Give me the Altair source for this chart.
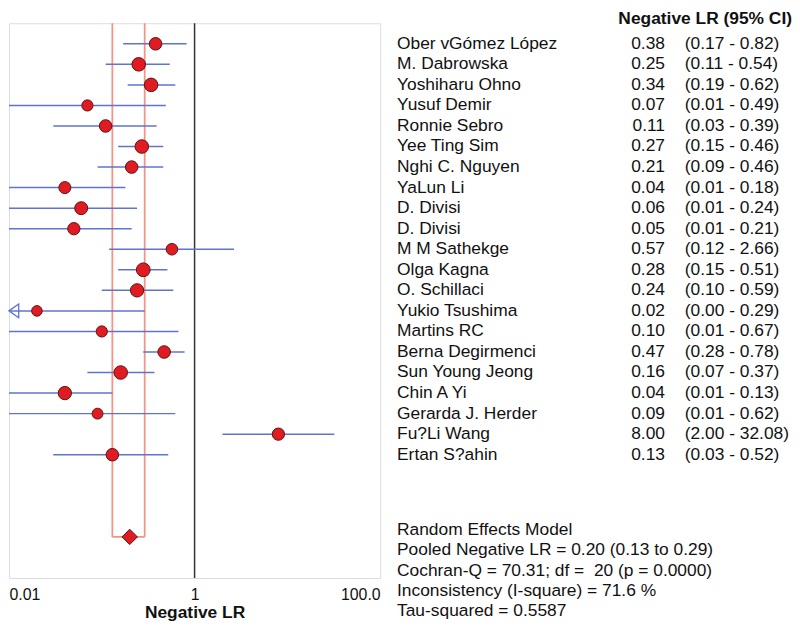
import altair as alt
import pandas as pd

# ---------------- data ----------------
names = ["Ober vGómez López", "M. Dabrowska", "Yoshiharu Ohno", "Yusuf Demir", "Ronnie Sebro",
         "Yee Ting Sim", "Nghi C. Nguyen", "YaLun Li", "D. Divisi", "D. Divisi", "M M Sathekge",
         "Olga Kagna", "O. Schillaci", "Yukio Tsushima", "Martins RC", "Berna Degirmenci",
         "Sun Young Jeong", "Chin A Yi", "Gerarda J. Herder", "Fu?Li Wang", "Ertan S?ahin"]
lr = [0.38, 0.25, 0.34, 0.07, 0.11, 0.27, 0.21, 0.04, 0.06, 0.05, 0.57,
      0.28, 0.24, 0.02, 0.10, 0.47, 0.16, 0.04, 0.09, 8.00, 0.13]
lo = [0.17, 0.11, 0.19, 0.01, 0.03, 0.15, 0.09, 0.01, 0.01, 0.01, 0.12,
      0.15, 0.10, 0.00, 0.01, 0.28, 0.07, 0.01, 0.01, 2.00, 0.03]
hi = [0.82, 0.54, 0.62, 0.49, 0.39, 0.46, 0.46, 0.18, 0.24, 0.21, 2.66,
      0.51, 0.59, 0.29, 0.67, 0.78, 0.37, 0.13, 0.62, 32.08, 0.52]
weight = [4.8, 5.6, 5.6, 3.8, 4.8, 5.6, 4.8, 4.4, 5.1, 4.6, 4.1,
          5.8, 5.4, 3.4, 3.8, 4.8, 5.6, 5.4, 3.6, 4.6, 4.8]

pooled = 0.20
pooled_lo = 0.13
pooled_hi = 0.29
pooled_row = 24

header = "Negative LR (95% CI)"
stats = ["Random Effects Model",
         "Pooled Negative LR = 0.20 (0.13 to 0.29)",
         "Cochran-Q = 70.31; df = \u00a020 (p = 0.0000)",
         "Inconsistency (I-square) = 71.6 %",
         "Tau-squared = 0.5587"]
stat_rows = [23.65, 24.65, 25.65, 26.65, 27.6]

axis_ticks = [0.01, 1, 100]

# ---------------- tables ----------------
df = pd.DataFrame({
    "name": names, "lr": lr, "lo": lo, "hi": hi, "weight": weight,
    "row": list(range(len(names))),
})
df["lr_txt"] = [f"{v:.2f}" for v in lr]
df["ci_txt"] = [f"({a:.2f} - {b:.2f})" for a, b in zip(lo, hi)]

pool_df = pd.DataFrame({"x": [pooled_lo, pooled_hi],
                        "top": [-1, -1], "bottom": [pooled_row, pooled_row]})
pool_pt = pd.DataFrame({"x": [pooled], "lo": [pooled_lo], "hi": [pooled_hi], "row": [pooled_row]})
stat_df = pd.DataFrame({"txt": stats, "row": stat_rows})
head_df = pd.DataFrame({"txt": [header], "row": [-1.2]})
one_df = pd.DataFrame({"x": [1]})

FONT = "Liberation Sans"
XS = alt.Scale(type="log", domain=[0.01, 100], nice=False)
YS = alt.Scale(domain=[-1, 26], reverse=True, nice=False, zero=False)

xaxis = alt.Axis(values=axis_ticks, labelExpr="datum.value >= 100 ? '100.0' : datum.value >= 1 ? '1' : '0.01'",
                 labelFlush=True, ticks=False, tickSize=0, domain=False, grid=False,
                 labelFontSize=16, labelPadding=9, labelColor="#111", labelFont=FONT,
                 title="Negative LR", titleFontSize=17.5, titleFontWeight="bold", titleFont=FONT,
                 titleColor="#111", titlePadding=1)

def X(field):
    return alt.X(field, type="quantitative", scale=XS, axis=xaxis)

def Y(field):
    return alt.Y(field, type="quantitative", scale=YS, axis=None)

RED_BOX = "#f39585"
BLUE = "#5f74d0"

# pooled CI verticals and bottom connector
box_v = alt.Chart(pool_df).mark_rule(color=RED_BOX, strokeWidth=1.8).encode(
    x=X("x"), y=Y("top"), y2="bottom")
box_h = alt.Chart(pool_pt).mark_rule(color=RED_BOX, strokeWidth=1.8).encode(
    x=X("lo"), x2="hi", y=Y("row"))

null_line = alt.Chart(one_df).mark_rule(color="#333", strokeWidth=1.5).encode(x=X("x"))

ci = alt.Chart(df).transform_calculate(lo_plot="max(datum.lo, 0.01)").mark_rule(
    color=BLUE, strokeWidth=1.5).encode(x=X("lo_plot"), x2="hi", y=Y("row"))

arrow = alt.Chart(df).transform_filter("datum.lo < 0.01").transform_calculate(
    lo_plot="0.01").mark_point(
    shape="M -1 0 L 0.4 -1 L 0.4 1 Z", filled=False, stroke=BLUE, strokeWidth=1.3,
    size=196, xOffset=7, opacity=1).encode(x=X("lo_plot"), y=Y("row"))

dots = alt.Chart(df).mark_point(filled=True, shape="circle", fill="#e01b22", stroke="#5a1414",
                                strokeWidth=1, opacity=1).encode(
    x=X("lr"), y=Y("row"),
    size=alt.Size("weight:Q", scale=alt.Scale(domain=[0, 6], range=[0, 200]), legend=None))

diamond = alt.Chart(pool_pt).mark_point(filled=True, shape="diamond", fill="#e01b22", stroke="#5a1414",
                                        strokeWidth=1, size=240, opacity=1).encode(
    x=X("x"), y=Y("row"))

TXT = dict(font=FONT, fontSize=17.5, color="#111", baseline="middle")
name_t = alt.Chart(df).mark_text(align="left", **TXT).encode(
    x=alt.value(391), y=Y("row"), text="name:N")
val_t = alt.Chart(df).mark_text(align="right", **TXT).encode(
    x=alt.value(661), y=Y("row"), text="lr_txt:N")
ci_t = alt.Chart(df).mark_text(align="left", **TXT).encode(
    x=alt.value(681), y=Y("row"), text="ci_txt:N")
head_t = alt.Chart(head_df).mark_text(align="right", font=FONT, fontSize=17.5, fontWeight="bold",
                                      color="#111", baseline="middle").encode(
    x=alt.value(789), y=Y("row"), text="txt:N")
stat_t = alt.Chart(stat_df).mark_text(align="left", **TXT).encode(
    x=alt.value(391), y=Y("row"), text="txt:N")

chart = alt.layer(box_v, box_h, null_line, ci, arrow, dots, diamond,
                  name_t, val_t, ci_t, head_t, stat_t).properties(
    width=374, height=559,
    autosize=alt.AutoSizeParams(type="none"),
    padding={"left": 1, "top": 13, "right": 415, "bottom": 45},
    background="white",
).configure_view(stroke="#333", strokeWidth=1.6).configure(font=FONT)

chart.save("out.html", embed_options={"renderer": "svg", "actions": False})
